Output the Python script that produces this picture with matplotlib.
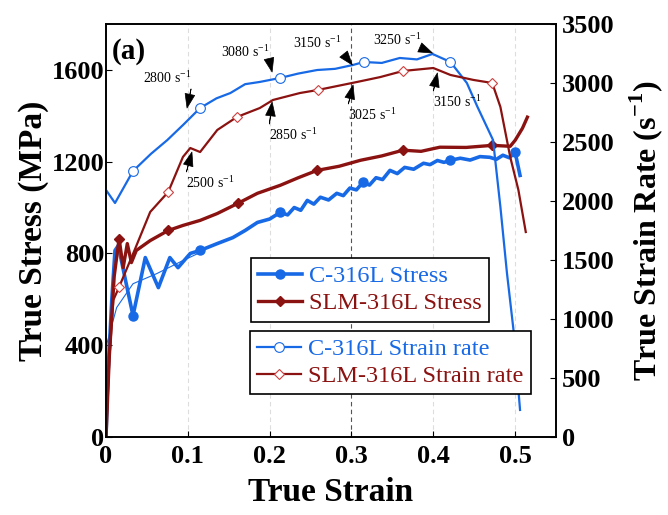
import matplotlib
matplotlib.use('Agg')
import matplotlib.pyplot as plt

plt.rcParams['font.family'] = 'Liberation Serif'
plt.rcParams['mathtext.fontset'] = 'custom'
plt.rcParams['mathtext.rm'] = 'Liberation Serif'
plt.rcParams['mathtext.bf'] = 'Liberation Serif:bold'

BLUE = '#1769e6'
RED = '#8a1210'

# C-316L true stress (MPa)
c_strain = [0, 0.002, 0.007, 0.011, 0.015, 0.024, 0.033, 0.048, 0.064, 0.078, 0.088, 0.103,
            0.115, 0.136, 0.155, 0.170, 0.185, 0.200, 0.213, 0.222, 0.230, 0.238, 0.246, 0.254,
            0.262, 0.272, 0.282, 0.290, 0.298, 0.306, 0.314, 0.322, 0.330, 0.338, 0.347, 0.356,
            0.365, 0.376, 0.388, 0.396, 0.405, 0.413, 0.421, 0.433, 0.445, 0.457, 0.469, 0.477,
            0.485, 0.493, 0.500, 0.506]
c_stress = [0, 245, 594, 813, 834, 680, 529, 782, 651, 782, 738, 800,
            813, 843, 869, 900, 935, 950, 979, 968, 1000, 988, 1031, 1015,
            1045, 1033, 1062, 1052, 1085, 1077, 1110, 1098, 1130, 1122, 1162, 1148,
            1175, 1167, 1193, 1187, 1205, 1197, 1206, 1215, 1207, 1222, 1219, 1210,
            1228, 1217, 1241, 1140]
c_stress_marks = [6, 12, 18, 30, 42, 50]

# C-316L early stress trace (thin)
c_thin_strain = [0, 0.001, 0.013, 0.033, 0.062, 0.094, 0.115]
c_thin_stress = [0, 406, 564, 668, 712, 769, 804]

# SLM-316L true stress (MPa)
s_strain = [0, 0.004, 0.010, 0.016, 0.021, 0.026, 0.031, 0.037, 0.054, 0.076, 0.094, 0.115,
            0.136, 0.161, 0.185, 0.213, 0.235, 0.258, 0.285, 0.311, 0.337, 0.363, 0.385,
            0.408, 0.440, 0.472, 0.494, 0.500, 0.509, 0.515]
s_stress = [0, 350, 700, 865, 738, 843, 760, 813, 856, 900, 922, 944,
            974, 1018, 1062, 1097, 1130, 1162, 1180, 1206, 1225, 1250, 1245,
            1263, 1262, 1271, 1267, 1293, 1346, 1394]
s_stress_marks = [3, 9, 13, 17, 21, 25]

# C-316L strain rate (1/s)
c_rate_strain = [0, 0.011, 0.033, 0.055, 0.075, 0.095, 0.115, 0.135, 0.152, 0.170, 0.188,
                 0.213, 0.235, 0.258, 0.280, 0.302, 0.315, 0.337, 0.359, 0.380, 0.399, 0.421,
                 0.441, 0.454, 0.473, 0.482, 0.490, 0.498, 0.506]
c_rate = [2093, 1983, 2254, 2400, 2517, 2650, 2788, 2870, 2915, 2990, 3009,
          3043, 3080, 3110, 3120, 3153, 3178, 3170, 3212, 3200, 3246, 3178,
          3000, 2797, 2517, 1949, 1390, 907, 229]
c_rate_marks = [2, 6, 11, 16, 21]

# SLM-316L strain rate (1/s)
s_rate_strain = [0, 0.004, 0.009, 0.016, 0.035, 0.054, 0.076, 0.094, 0.103, 0.115, 0.136,
                 0.160, 0.188, 0.204, 0.237, 0.259, 0.307, 0.335, 0.363, 0.400, 0.421, 0.449,
                 0.472, 0.482, 0.494, 0.504, 0.513]
s_rate = [0, 653, 1161, 1271, 1585, 1907, 2076, 2373, 2449, 2415, 2602,
          2712, 2788, 2856, 2915, 2941, 3009, 3050, 3102, 3127, 3068, 3026,
          3000, 2797, 2373, 2093, 1737]
s_rate_marks = [3, 6, 11, 15, 18, 22]

# annotations: label, arrow tip (strain, rate), text centre (strain, rate)
ann_labels = ['2800', '3080', '3150', '3250', '2500', '2850', '3025', '3150']
ann_tip = [(0.099, 2788), (0.203, 3093), (0.301, 3153), (0.399, 3254),
           (0.105, 2415), (0.203, 2839), (0.302, 2983), (0.405, 3085)]
ann_text = [(0.075, 3043), (0.170, 3263), (0.258, 3339), (0.356, 3365),
            (0.127, 2153), (0.229, 2559), (0.325, 2729), (0.429, 2839)]

fig = plt.figure(figsize=(6.68, 5.15), dpi=100)
ax = fig.add_axes([0.1587, 0.1515, 0.6737, 0.8019])
ax2 = ax.twinx()

for xv in [0.1, 0.2, 0.4, 0.5]:
    ax.axvline(xv, color='#dddddd', lw=0.8, ls=(0, (4, 3)), zorder=0)
ax.axvline(0.3, color='#555555', lw=0.8, ls=(0, (4, 3)), zorder=0)

ax.plot(c_thin_strain, c_thin_stress, color=BLUE, lw=0.8)
l1, = ax.plot(c_strain, c_stress, color=BLUE, lw=2.6, marker='o', ms=6.5,
              markevery=c_stress_marks, label='C-316L Stress')
l2, = ax.plot(s_strain, s_stress, color=RED, lw=2.4, marker='D', ms=5.5,
              markevery=s_stress_marks, label='SLM-316L Stress')
l3, = ax2.plot(c_rate_strain, c_rate, color=BLUE, lw=1.6, marker='o', ms=7,
               mfc='white', mec=BLUE, mew=0.8, markevery=c_rate_marks, label='C-316L Strain rate')
l4, = ax2.plot(s_rate_strain, s_rate, color=RED, lw=1.6, marker='D', ms=5.5,
               mfc='white', mec='#d04040', mew=0.8, markevery=s_rate_marks, label='SLM-316L Strain rate')

for lab, tip, txt in zip(ann_labels, ann_tip, ann_text):
    ax2.annotate(lab + r' s$^{-1}$', xy=tip, xytext=txt, ha='center', va='center', fontsize=10,
                 arrowprops=dict(facecolor='black', edgecolor='black', width=0.2,
                                 headwidth=7, headlength=10, shrink=0.0, lw=0.5))

ax.set_xlim(0, 0.55)
ax.set_ylim(0, 1800)
ax2.set_ylim(0, 3500)
ax.set_xticks([0, 0.1, 0.2, 0.3, 0.4, 0.5])
ax.set_xticklabels(['0', '0.1', '0.2', '0.3', '0.4', '0.5'])
ax.set_yticks([0, 400, 800, 1200, 1600])
ax2.set_yticks(range(0, 3501, 500))

for a in (ax, ax2):
    a.tick_params(direction='in', length=4, width=0.8, labelsize=19, pad=1)
    for t in a.get_xticklabels() + a.get_yticklabels():
        t.set_fontweight('bold')
    for sp in a.spines.values():
        sp.set_linewidth(1.2)
ax.tick_params(axis='x', pad=6)
ax2.tick_params(axis='y', pad=4)

ax.set_xlabel('True Strain', fontsize=24, fontweight='bold', labelpad=6)
ax.set_ylabel('True Stress (MPa)', fontsize=24, fontweight='bold', labelpad=2)
ax2.set_ylabel(r'True Strain Rate (s$^{\mathbf{-1}}$)', fontsize=23, fontweight='bold', labelpad=9)
ax.text(0.012, 0.965, '(a)', transform=ax.transAxes, fontsize=21, fontweight='bold', va='top')

leg_kw = dict(loc='upper left', borderaxespad=0, fontsize=17.5, fancybox=False,
              edgecolor='black', framealpha=1, handlelength=1.8, handletextpad=0.3,
              borderpad=0.3, labelspacing=0.2)
leg1 = ax2.legend(handles=[l1, l2], bbox_to_anchor=(0.322, 0.433), **leg_kw)
leg1.get_frame().set_linewidth(1.2)
for t, c in zip(leg1.get_texts(), [BLUE, RED]):
    t.set_color(c)
ax2.add_artist(leg1)
leg2 = ax2.legend(handles=[l3, l4], bbox_to_anchor=(0.320, 0.257), **leg_kw)
leg2.get_frame().set_linewidth(1.2)
for t, c in zip(leg2.get_texts(), [BLUE, RED]):
    t.set_color(c)

fig.savefig('out.png', dpi=100)
